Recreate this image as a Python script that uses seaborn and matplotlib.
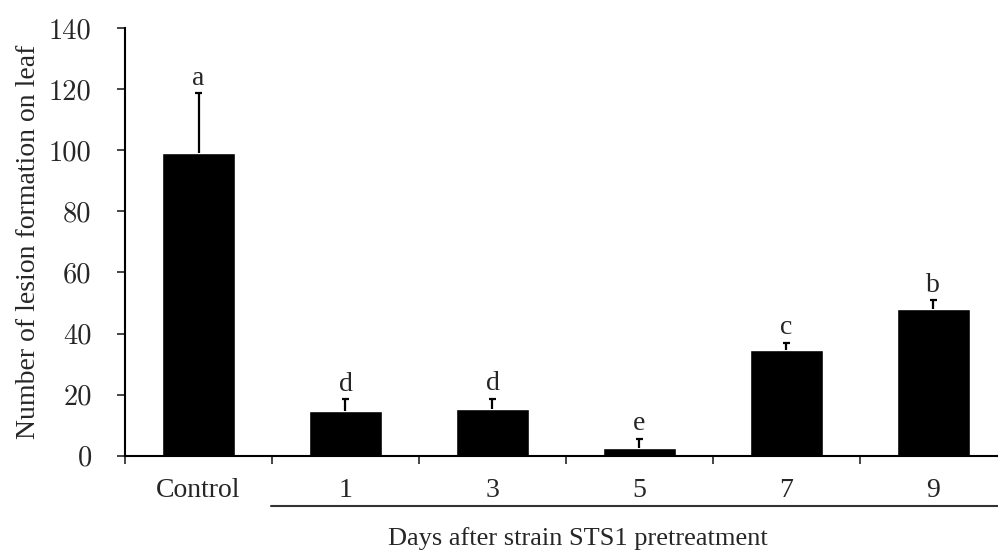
import matplotlib
matplotlib.use('Agg')
import matplotlib.pyplot as plt
import matplotlib.transforms as mtransforms
import numpy as np
import pandas as pd
import seaborn as sns

categories = ['Control', '1', '3', '5', '7', '9']
lesions = [99.0, 14.7, 15.4, 2.6, 34.5, 47.9]
errors = [19.6, 3.8, 3.3, 3.0, 2.5, 3.0]
letters = ['a', 'd', 'd', 'e', 'c', 'b']
yticks = [0, 20, 40, 60, 80, 100, 120, 140]

sns.set_style('ticks')
plt.rcParams['font.family'] = ['Liberation Serif', 'DejaVu Serif']

data = pd.DataFrame({'group': categories, 'lesions': lesions})

fig = plt.figure(figsize=(9.98, 5.58), dpi=100)
ax = fig.add_axes([0.1253, 0.1833, 0.8747, 0.7665])

sns.barplot(data=data, x='group', y='lesions', color='black', width=0.5,
            errorbar=None, saturation=1, ax=ax)

# upper-only error bars: stem plus a cap on top
pos = np.arange(len(categories))
tops = np.array(lesions) + np.array(errors)
ax.vlines(pos, lesions, tops, color='black', lw=1.6)
ax.hlines(tops, pos - 0.025, pos + 0.025, color='black', lw=1.6)

for x, top, t in zip(pos, tops, letters):
    ax.text(x, top + 0.8, t, ha='center', va='bottom', fontsize=20)

ax.set_ylim(0, 140)
ax.set_yticks(yticks)
ax.set_yticklabels([str(v) for v in yticks], fontname='cmr10', fontsize=20.5)
ax.set_xlim(-0.5, 5.44)

# boundary ticks (no labels) and centred labels
ax.set_xticks(np.arange(-0.5, 5.0, 1.0))
ax.set_xticklabels([])
ax.set_xticks(pos, minor=True)
ax.set_xticklabels(categories, minor=True)
ax.tick_params(axis='x', which='major', direction='out', length=6, width=1.2)
ax.tick_params(axis='x', which='minor', length=0, pad=16, labelsize=20)
ax.tick_params(axis='y', direction='out', length=6, width=1.2, pad=18)

ax.set_xlabel('')
ax.set_ylabel('Number of lesion formation on leaf', fontsize=20, labelpad=6)

for side in ['top', 'right']:
    ax.spines[side].set_visible(False)
for side in ['left', 'bottom']:
    ax.spines[side].set_linewidth(1.5)
    ax.spines[side].set_color('black')

# line grouping the pretreatment days
trans = mtransforms.blended_transform_factory(ax.transData, ax.transAxes)
ax.plot([0.49, 5.44], [-0.118, -0.118], transform=trans, color='#333333',
        lw=1.5, clip_on=False)
ax.text(2.58, -0.193, 'Days after strain STS1 pretreatment', transform=trans,
        ha='center', va='center', fontsize=19)

fig.savefig('out.png', dpi=100)
